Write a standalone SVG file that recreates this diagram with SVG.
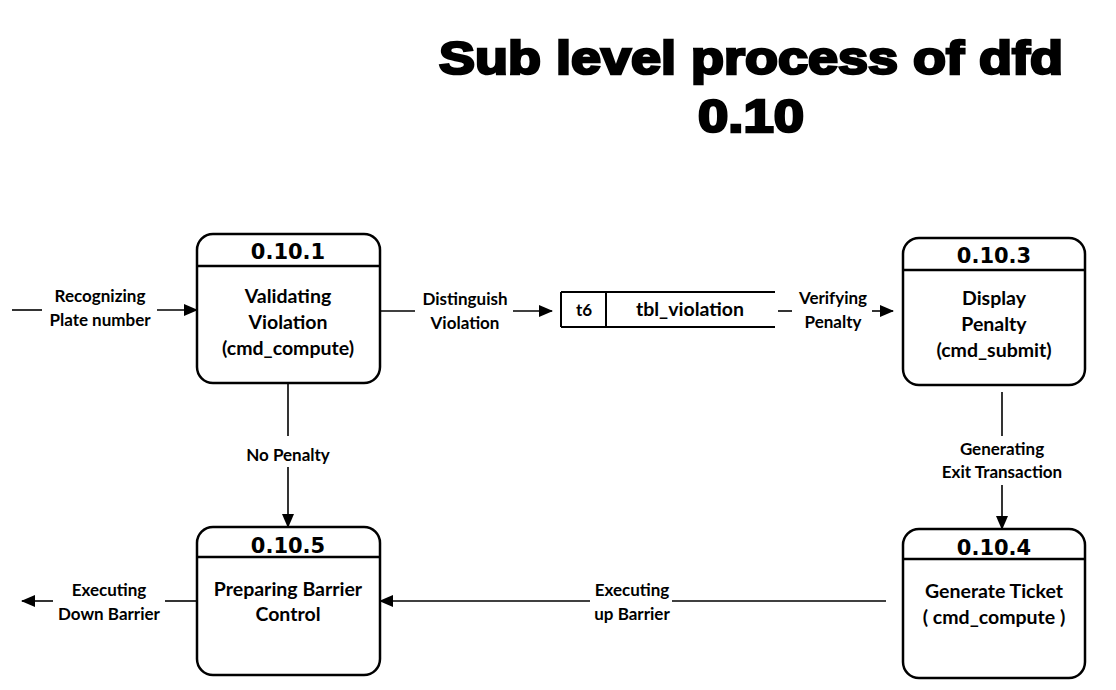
<svg xmlns="http://www.w3.org/2000/svg" width="1116" height="690" viewBox="0 0 1116 690">
<style>
.title{font-family:"Liberation Sans",Arial,sans-serif;font-weight:bold;font-size:47px;fill:#000;stroke:#000;stroke-width:2.6px;text-anchor:middle}
.node{fill:#fff;stroke:#000;stroke-width:2.5}
.hdr{font-family:"DejaVu Sans",sans-serif;font-weight:bold;font-size:21px;text-anchor:middle}
.body{font-family:Lato,"Open Sans",sans-serif;font-weight:bold;font-size:19.5px;text-anchor:middle}
.lbl{font-family:Lato,"Open Sans",sans-serif;font-weight:bold;font-size:17px;text-anchor:middle}
.ln{fill:none;stroke:#000;stroke-width:1.6}
.ds{fill:none;stroke:#000;stroke-width:2}
</style>
<defs>
<marker id="arr" markerUnits="userSpaceOnUse" markerWidth="14" markerHeight="12" refX="13" refY="6" orient="auto">
<path d="M0,0 L14,6 L0,12 Z" fill="#000"/>
</marker>
</defs>
<rect width="1116" height="690" fill="#fff"/>
<g id="title">
<text class="title" x="751" y="74" textLength="624" lengthAdjust="spacingAndGlyphs">Sub level process of dfd</text>
<text class="title" x="751" y="132" textLength="106" lengthAdjust="spacingAndGlyphs">0.10</text>
</g>
<g id="connectors">
<line class="ln" x1="12" y1="310" x2="42" y2="310"/>
<line class="ln" x1="157" y1="310" x2="197" y2="310" marker-end="url(#arr)"/>
<text class="lbl" x="100" y="302">Recognizing</text>
<text class="lbl" x="100" y="326">Plate number</text>
<line class="ln" x1="380" y1="311" x2="415" y2="311"/>
<line class="ln" x1="513" y1="311" x2="552" y2="311" marker-end="url(#arr)"/>
<text class="lbl" x="465" y="305">Distinguish</text>
<text class="lbl" x="465" y="329">Violation</text>
<line class="ln" x1="778" y1="311" x2="792" y2="311"/>
<line class="ln" x1="872" y1="311" x2="893" y2="311" marker-end="url(#arr)"/>
<text class="lbl" x="833" y="304">Verifying</text>
<text class="lbl" x="833" y="328">Penalty</text>
<line class="ln" x1="288" y1="383" x2="288" y2="436"/>
<line class="ln" x1="288" y1="467" x2="288" y2="527" marker-end="url(#arr)"/>
<text class="lbl" x="288" y="461">No Penalty</text>
<line class="ln" x1="1002" y1="392" x2="1002" y2="436"/>
<line class="ln" x1="1002" y1="485" x2="1002" y2="529" marker-end="url(#arr)"/>
<text class="lbl" x="1002" y="455">Generating</text>
<text class="lbl" x="1002" y="478">Exit Transaction</text>
<line class="ln" x1="886" y1="601" x2="672" y2="601"/>
<line class="ln" x1="590" y1="601" x2="380" y2="601" marker-end="url(#arr)"/>
<text class="lbl" x="632" y="596">Executing</text>
<text class="lbl" x="632" y="620">up Barrier</text>
<line class="ln" x1="197" y1="601" x2="165" y2="601"/>
<line class="ln" x1="53" y1="601" x2="22" y2="601" marker-end="url(#arr)"/>
<text class="lbl" x="109" y="596">Executing</text>
<text class="lbl" x="109" y="620">Down Barrier</text>
</g>
<g id="p0101">
<rect class="node" x="197" y="234" width="183" height="149" rx="16"/>
<line class="node" x1="197" y1="266" x2="380" y2="266"/>
<text class="hdr" x="288" y="259">0.10.1</text>
<text class="body" x="288" y="303">Validating</text>
<text class="body" x="288" y="329">Violation</text>
<text class="body" x="288" y="355">(cmd_compute)</text>
</g>
<g id="ds_t6">
<line class="ds" x1="561" y1="292" x2="775" y2="292"/>
<line class="ds" x1="561" y1="327" x2="775" y2="327"/>
<line class="ds" x1="561" y1="292" x2="561" y2="327"/>
<line class="ds" x1="606" y1="292" x2="606" y2="327"/>
<text class="body" x="584" y="316" style="font-size:17px">t6</text>
<text class="body" x="690" y="316">tbl_violation</text>
</g>
<g id="p0103">
<rect class="node" x="903" y="238" width="182" height="147" rx="16"/>
<line class="node" x1="903" y1="270" x2="1085" y2="270"/>
<text class="hdr" x="994" y="263">0.10.3</text>
<text class="body" x="994" y="305">Display</text>
<text class="body" x="994" y="331">Penalty</text>
<text class="body" x="994" y="357">(cmd_submit)</text>
</g>
<g id="p0105">
<rect class="node" x="197" y="527" width="183" height="148" rx="16"/>
<line class="node" x1="197" y1="557" x2="380" y2="557"/>
<text class="hdr" x="288" y="553">0.10.5</text>
<text class="body" x="288" y="596">Preparing Barrier</text>
<text class="body" x="288" y="621">Control</text>
</g>
<g id="p0104">
<rect class="node" x="903" y="529" width="182" height="149" rx="16"/>
<line class="node" x1="903" y1="559" x2="1085" y2="559"/>
<text class="hdr" x="994" y="555">0.10.4</text>
<text class="body" x="994" y="598">Generate Ticket</text>
<text class="body" x="994" y="624">( cmd_compute )</text>
</g>
</svg>
